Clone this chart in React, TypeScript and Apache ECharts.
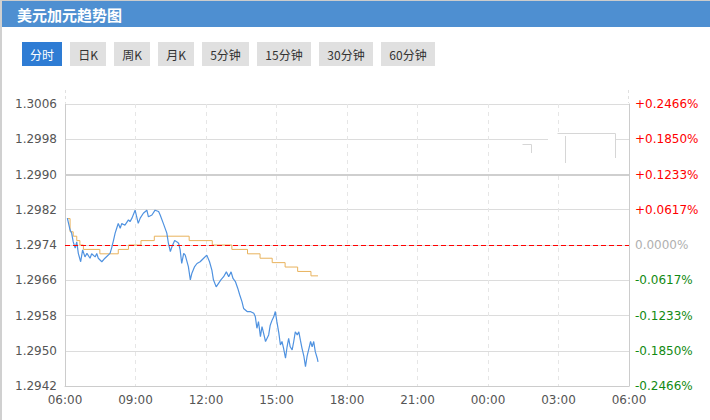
import React, { useEffect, useRef } from "react";
import * as echarts from "echarts";

const TITLE = "美元加元趋势图";
const TABS = ["分时", "日K", "周K", "月K", "5分钟", "15分钟", "30分钟", "60分钟"];
const ACTIVE_TAB = 0;
const PREV_CLOSE = 1.2974;
const MID_LINE = 1.299;
const Y_MIN = 1.2942;
const Y_MAX = 1.3006;
const Y_STEP = 0.0008;
const X_TICK_LABELS = ["06:00", "09:00", "12:00", "15:00", "18:00", "21:00", "00:00", "03:00", "06:00"];

// minutes after 06:00
const priceMinutes = [
  6, 13, 17, 21, 26, 30, 34, 40, 45, 51, 56, 64, 68, 77, 81, 85, 94, 102, 115, 119,
  124, 128, 132, 136, 141, 145, 153, 162, 166, 171, 179, 187, 192, 200, 209, 213, 222, 230, 239, 243,
  251, 260, 264, 269, 273, 280, 286, 290, 294, 298, 303, 307, 315, 320, 324, 331, 337, 345, 354, 362,
  369, 375, 379, 386, 392, 398, 405, 412, 418, 424, 429, 435, 441, 446, 452, 456, 465, 473, 482, 486,
  490, 494, 499, 503, 507, 512, 520, 524, 529, 533, 537, 541, 546, 550, 554, 558, 563, 567, 571, 575,
  580, 584, 588, 593, 597, 601, 605, 610, 614, 618, 622, 627, 631, 635, 639, 644, 646,
];
const priceValues = [
  1.29801, 1.29774, 1.29767, 1.29747, 1.29733, 1.29747, 1.29721, 1.29702, 1.29729, 1.29713,
  1.29721, 1.2971, 1.2972, 1.29713, 1.29721, 1.2971, 1.29702, 1.2971, 1.29721, 1.29733,
  1.29751, 1.29767, 1.29778, 1.29789, 1.29778, 1.29789, 1.29785, 1.29797, 1.29793, 1.29801,
  1.29819, 1.29789, 1.29801, 1.29812, 1.29819, 1.29804, 1.29808, 1.29819, 1.29816, 1.29808,
  1.29789, 1.29767, 1.29744, 1.29725, 1.29736, 1.2975, 1.29747, 1.29744, 1.29729, 1.29698,
  1.29721, 1.29717, 1.29691, 1.29661, 1.29676, 1.29691, 1.29698, 1.29702, 1.2971, 1.29717,
  1.29702, 1.29683, 1.29661, 1.29645, 1.29653, 1.29661, 1.29668, 1.29679, 1.29668, 1.29679,
  1.29664, 1.29657, 1.29642, 1.29627, 1.29611, 1.29596, 1.29589, 1.29589, 1.29585, 1.29577,
  1.29551, 1.29566, 1.29532, 1.29555, 1.2954, 1.29521, 1.29536, 1.29558, 1.2957, 1.29577,
  1.29589, 1.29566, 1.2954, 1.29513, 1.29521, 1.29506, 1.29483, 1.29509, 1.29528, 1.29509,
  1.29502, 1.29521, 1.29543, 1.29536, 1.29543, 1.29524, 1.29506, 1.29487, 1.29464, 1.29487,
  1.29502, 1.29521, 1.29509, 1.29521, 1.29498, 1.29483, 1.29475,
];

const avgMinutes = [6, 13, 21, 30, 38, 47, 89, 136, 162, 194, 228, 317, 376, 426, 466, 498, 529, 562, 594, 628, 646];
const avgValues = [
  1.298, 1.2977, 1.2976, 1.2975, 1.2974, 1.2973, 1.2972, 1.2973, 1.2974, 1.2975, 1.2976,
  1.2975, 1.2974, 1.2973, 1.2972, 1.2971, 1.297, 1.2969, 1.2968, 1.2967, 1.2967,
];

const TAB_X = [22, 70, 114, 158, 202, 257, 319, 381];
const TAB_W = [40, 36, 36, 36, 47, 54, 54, 54];

function pctLabel(v: number): string {
  const p = ((v - PREV_CLOSE) / PREV_CLOSE) * 100;
  if (Math.abs(p) < 0.00005) return "{z|0.0000%}";
  if (p > 0) return "{r|+" + p.toFixed(4) + "%}";
  return "{g|" + p.toFixed(4) + "%}";
}

export default function App() {
  const ref = useRef<HTMLDivElement>(null);
  useEffect(() => {
    if (!ref.current) return;
    const chart = echarts.init(ref.current, undefined, { renderer: "svg" });
    const line = (x1: number, y1: number, x2: number, y2: number, color = "#d6d6d6", dash?: number[]) => ({
      type: "line",
      z: 20,
      shape: { x1, y1, x2, y2 },
      style: { stroke: color, lineWidth: 1, lineDash: dash },
      silent: true,
    });
    const tabs = TABS.map((t, i) => ({
      type: "group",
      x: TAB_X[i],
      y: 42,
      children: [
        {
          type: "rect",
          shape: { x: 0, y: 0, width: TAB_W[i], height: 24 },
          style: { fill: i === ACTIVE_TAB ? "#2e7cd4" : "#e0e0e0" },
        },
        {
          type: "text",
          x: TAB_W[i] / 2,
          y: 12,
          style: {
            text: t,
            fill: i === ACTIVE_TAB ? "#ffffff" : "#333333",
            font: '12px "Noto Sans CJK SC"',
            align: "center",
            verticalAlign: "middle",
          },
        },
      ],
    }));
    chart.setOption({
      animation: false,
      backgroundColor: "#ffffff",
      grid: { left: 65, right: 81, top: 104, bottom: 34 },
      xAxis: {
        type: "value",
        min: 0,
        max: 1440,
        interval: 180,
        axisLine: { show: true, lineStyle: { color: "#cccccc" } },
        axisTick: { show: false },
        axisLabel: {
          color: "#555555",
          fontFamily: "DejaVu Sans",
          fontSize: 12,
          margin: 8,
          formatter: (v: number) => X_TICK_LABELS[Math.round(v / 180)] ?? "",
        },
        splitLine: { show: true, lineStyle: { color: "#e6e6e6", type: [4, 4] } },
      },
      yAxis: [
        {
          type: "value",
          min: Y_MIN,
          max: Y_MAX,
          interval: Y_STEP,
          axisLine: { show: true, lineStyle: { color: "#cccccc" } },
          axisTick: { show: false },
          axisLabel: {
            color: "#555555",
            fontFamily: "DejaVu Sans",
            fontSize: 12,
            margin: 8,
            formatter: (v: number) => v.toFixed(4),
          },
          splitLine: { show: true, lineStyle: { color: "#dcdcdc" } },
        },
        {
          type: "value",
          position: "right",
          min: Y_MIN,
          max: Y_MAX,
          interval: Y_STEP,
          axisLine: { show: true, lineStyle: { color: "#cccccc" } },
          axisTick: { show: false },
          splitLine: { show: false },
          axisLabel: {
            margin: 6,
            fontFamily: "DejaVu Sans",
            fontSize: 12,
            formatter: (v: number) => pctLabel(v),
            rich: {
              r: { color: "#ff0000", fontFamily: "DejaVu Sans", fontSize: 12 },
              g: { color: "#138a13", fontFamily: "DejaVu Sans", fontSize: 12 },
              z: { color: "#b0b0b0", fontFamily: "DejaVu Sans", fontSize: 12 },
            },
          },
        },
      ],
      series: [
        {
          type: "line",
          name: "价格",
          data: priceMinutes.map((m, i) => [m, priceValues[i]]),
          showSymbol: false,
          lineStyle: { color: "#4f92e0", width: 1.2 },
          itemStyle: { color: "#4f92e0" },
          z: 3,
          markLine: {
            silent: true,
            symbol: "none",
            precision: 4,
            label: { show: false },
            data: [
              { yAxis: MID_LINE, lineStyle: { color: "#cfcfcf", type: "solid", width: 2 } },
              { yAxis: PREV_CLOSE, lineStyle: { color: "#ff0000", type: [5, 3], width: 1 } },
            ],
          },
        },
        {
          type: "line",
          name: "均价",
          step: "end",
          data: avgMinutes.map((m, i) => [m, avgValues[i]]),
          showSymbol: false,
          lineStyle: { color: "#e8b25c", width: 1 },
          itemStyle: { color: "#e8b25c" },
          z: 2,
        },
      ],
      graphic: [
        { type: "rect", z: 20, shape: { x: 0, y: 0, width: 710, height: 1 }, style: { fill: "#cccccc" } },
        { type: "rect", z: 20, shape: { x: 0, y: 0, width: 2, height: 420 }, style: { fill: "#d0d0d0" } },
        { type: "rect", z: 21, shape: { x: 2, y: 1, width: 708, height: 26 }, style: { fill: "#4e8fd1" } },
        {
          type: "text",
          z: 22,
          x: 17,
          y: 14,
          style: {
            text: TITLE,
            fill: "#ffffff",
            font: 'bold 15px "Noto Sans CJK SC"',
            verticalAlign: "middle",
          },
        },
        ...tabs,
        line(65.5, 90, 65.5, 103, "#e0e0e0", [3, 3]),
        line(628.5, 90, 628.5, 103, "#e0e0e0", [3, 3]),
        { type: "rect", z: 19, shape: { x: 548, y: 134, width: 67, height: 38 }, style: { fill: "#ffffff" } },
        line(522.5, 144.5, 531.5, 144.5),
        line(531.5, 144.5, 531.5, 153),
        line(557.5, 133.5, 615.5, 133.5),
        line(565.5, 136, 565.5, 163),
        line(615.5, 133.5, 615.5, 158),
      ],
    });
    return () => chart.dispose();
  }, []);
  return (
    <div
      ref={ref}
      style={{ position: "absolute", left: 0, top: 0, width: 710, height: 420 }}
    />
  );
}
